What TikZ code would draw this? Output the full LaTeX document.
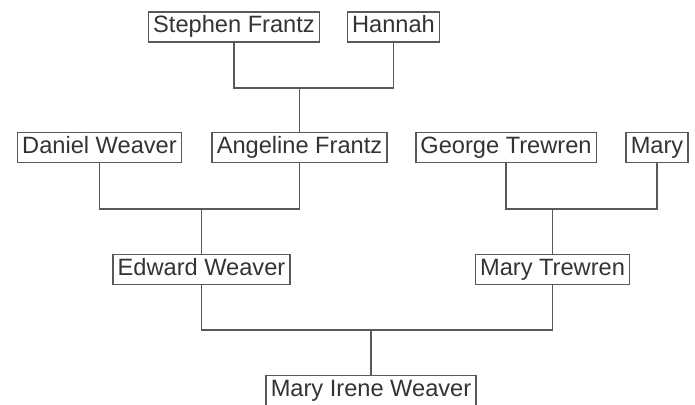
\documentclass[tikz,border=0pt]{standalone}
\usepackage{fontspec}
\setmainfont{Liberation Sans}
\usetikzlibrary{calc,positioning}

\begin{document}
\begin{tikzpicture}[x=0.025cm, y=-0.025cm, font=\fontsize{16.8}{20}\selectfont,
        person/.style={draw=black!65, line width=1pt, text=black!80,
            inner xsep=3.3pt, inner ysep=2.9pt, text height=12pt, text depth=3.5pt},
        link/.style={draw=black!65, line width=1pt}]
        \useasboundingbox (0,0) rectangle (695,404);

        % grandparents of Edward
        \node[person] (sf) at (234,27) {Stephen Frantz};
        \node[person] (hn) at (393.5,27) {Hannah};

        % parents of Edward and Mary Trewren
        \node[person] (dw) at (99.5,147.5) {Daniel Weaver};
        \node[person] (af) at (299.5,147.5) {Angeline Frantz};
        \node[person] (gt) at (506,147.5) {George Trewren};
        \node[person] (my) at (657,147.5) {Mary};

        % parents
        \node[person] (ew) at (201.5,269.5) {Edward Weaver};
        \node[person] (mt) at (552.5,269.5) {Mary Trewren};

        % child
        \node[person] (mi) at (371,390.5) {Mary Irene Weaver};

        % family bars
        \coordinate (bar1) at (0,88);
        \coordinate (bar2) at (0,209);
        \coordinate (bar3) at (0,330);

        \draw[link] (sf.south) |- (hn.south |- bar1) -- (hn.south);
        \draw[link] (af.north) -- (af.north |- bar1);

        \draw[link] (dw.south) |- (af.south |- bar2) -- (af.south);
        \draw[link] (ew.north) -- (ew.north |- bar2);

        \draw[link] (gt.south) |- (my.south |- bar2) -- (my.south);
        \draw[link] (mt.north) -- (mt.north |- bar2);

        \draw[link] (ew.south) |- (mt.south |- bar3) -- (mt.south);
        \draw[link] (mi.north) -- (mi.north |- bar3);
    \end{tikzpicture}
\end{document}
